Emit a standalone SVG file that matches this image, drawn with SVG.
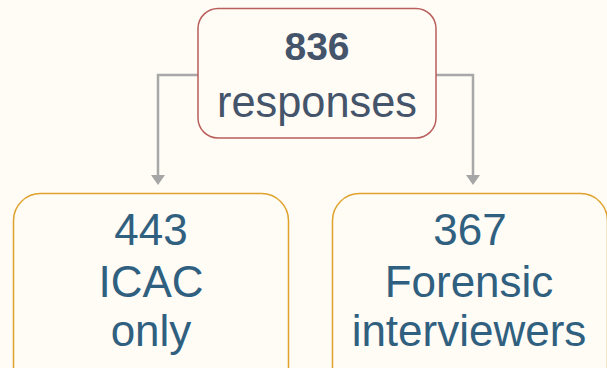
<svg xmlns="http://www.w3.org/2000/svg" width="607" height="368" viewBox="0 0 607 368">
  <defs>
    <marker id="arr" markerUnits="userSpaceOnUse" markerWidth="14" markerHeight="12" viewBox="0 0 14 12" refX="7" refY="1" orient="0">
      <path d="M0,0 L14,0 L7,10 Z" fill="#a6a6a6"/>
    </marker>
    <style>
      .top { fill: #fffbf5; stroke: #b95f5c; stroke-width: 1.5; }
      .bot { fill: #fffbf5; stroke: #dfa22c; stroke-width: 1.5; }
      .conn { fill: none; stroke: #a8a8a8; stroke-width: 2.5; }
      .t1 { font-family: "Liberation Sans", Arial, sans-serif; fill: #44546a; text-anchor: middle; }
      .t2 { font-family: "Liberation Sans", Arial, sans-serif; fill: #30607f; text-anchor: middle; font-size: 44px; }
    </style>
  </defs>
  <rect width="607" height="368" fill="#fffbf5"/>
  <g id="connectors">
    <path class="conn" d="M198,75 H158 V176" marker-end="url(#arr)"/>
    <path class="conn" d="M436,75 H473 V176" marker-end="url(#arr)"/>
  </g>
  <g id="node-responses">
    <rect class="top" x="198" y="8.5" width="238" height="129.5" rx="20"/>
    <text class="t1" x="317" y="60" font-size="39" font-weight="bold">836</text>
    <text class="t1" x="317" y="117" font-size="44" textLength="200" lengthAdjust="spacingAndGlyphs">responses</text>
  </g>
  <g id="node-icac">
    <rect class="bot" x="13.5" y="193.5" width="275" height="200" rx="27"/>
    <text class="t2" x="151" y="245" font-size="41">443</text>
    <text class="t2" x="151" y="297">ICAC</text>
    <text class="t2" x="151" y="346">only</text>
  </g>
  <g id="node-forensic">
    <rect class="bot" x="332.5" y="193.5" width="275" height="200" rx="27"/>
    <text class="t2" x="470" y="245" font-size="41">367</text>
    <text class="t2" x="469" y="297">Forensic</text>
    <text class="t2" x="469" y="346">interviewers</text>
  </g>
</svg>
